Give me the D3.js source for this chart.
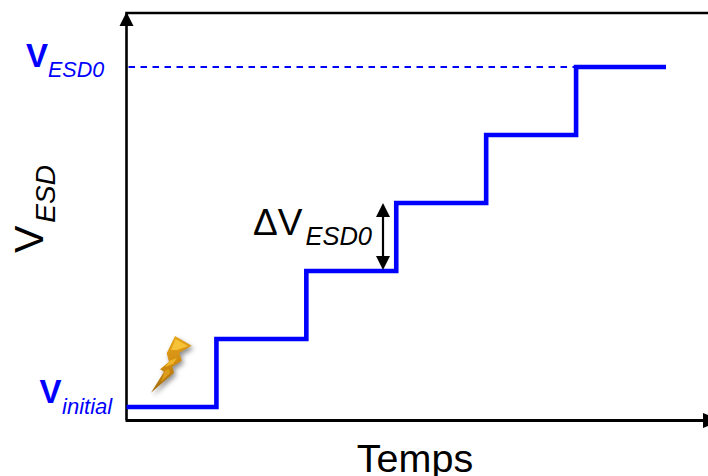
<!DOCTYPE html>
<html><head><meta charset="utf-8">
<script src="https://cdn.jsdelivr.net/npm/d3@7/dist/d3.min.js"></script>
<style>html,body{margin:0;padding:0;background:#fff}svg{display:block}text{font-family:"Liberation Sans",Arial,sans-serif}</style>
</head><body><svg id="c" width="708" height="476"></svg>
<script>
const stepTimes = [0,1,2,3,4,5,6];
const stepLevels = [0,1,2,3,4,5,5];
const xLabel = "Temps";
const yLabel = ["V","ESD"];
const topLabel = ["V","ESD0"];
const bottomLabel = ["V","initial"];
const deltaLabel = ["ΔV","ESD0"];
const BLUE = "#0000ff";

const svg = d3.select("#c");
const x = d3.scaleLinear().domain([0,6]).range([126.5,666]);
const y = d3.scaleLinear().domain([0,5]).range([407,67]);

const defs = svg.append("defs");
const g1 = defs.append("linearGradient").attr("id","bolt").attr("x1","0.3").attr("y1","0").attr("x2","0.5").attr("y2","1");
[[0,"#e8aa1c"],[0.5,"#d28c10"],[1,"#9a660c"]].forEach(d=>g1.append("stop").attr("offset",d[0]).attr("stop-color",d[1]));
defs.append("filter").attr("id","blur").attr("x","-50%").attr("y","-50%").attr("width","200%").attr("height","200%")
  .append("feGaussianBlur").attr("stdDeviation",2.4);
defs.append("filter").attr("id","soft").append("feGaussianBlur").attr("stdDeviation",0.5);

// frame
svg.append("path").attr("d","M126.5,420V13H708").attr("fill","none").attr("stroke","#000").attr("stroke-width",2.6);
svg.append("path").attr("d","M125.5,420.5H708").attr("fill","none").attr("stroke","#000").attr("stroke-width",3.2);
svg.append("path").attr("d","M126.5,12L119.5,26H133.5Z").attr("fill","#000");
svg.append("path").attr("d","M703,413L708,415V426L703,428Z").attr("fill","#000");

// dashed reference
svg.append("line").attr("x1",x(0)+2).attr("x2",x(5)).attr("y1",y(5)).attr("y2",y(5))
  .attr("stroke",BLUE).attr("stroke-width",2).attr("stroke-dasharray","6.5,5.5");

// staircase
const line = d3.line().x((d,i)=>x(stepTimes[i])).y(d=>y(d)).curve(d3.curveStepAfter);
svg.append("path").attr("d",line(stepLevels)).attr("fill","none").attr("stroke",BLUE).attr("stroke-width",4.6).attr("stroke-linejoin","miter");

// delta arrow
const ax = 383;
svg.append("line").attr("x1",ax).attr("x2",ax).attr("y1",y(3)+8).attr("y2",y(2)-8).attr("stroke","#000").attr("stroke-width",2.2);
svg.append("path").attr("d",`M${ax},${y(3)}l-7,14h14Z`).attr("fill","#000");
svg.append("path").attr("d",`M${ax},${y(2)-1}l-7,-14h14Z`).attr("fill","#000");

// bolt
const B = "M175,336L191.7,345.7L179.3,352.7L181.7,360.7L172.3,366.7L174,372.7L151,392.7L164,371.7L160,369.3L169,361.7L166.7,353.3Z";
svg.append("path").attr("d",B).attr("fill","#444").attr("opacity",0.6).attr("filter","url(#blur)").attr("transform","translate(2,3)");
svg.append("path").attr("d",B).attr("fill","url(#bolt)").attr("filter","url(#soft)");
svg.append("path").attr("d","M175.5,339L188,346L177,350L171,350Z").attr("fill","#f6c238").attr("filter","url(#soft)");
svg.append("path").attr("d","M177,358L170,360.5L165,367L173,364Z").attr("fill","#efb52a").attr("filter","url(#soft)");
svg.append("path").attr("d","M169,369L165,370.5L161,382L170,373Z").attr("fill","#dc9c1a").attr("filter","url(#soft)");

function label(xp,yp,parts,fill,s1,s2,bold,dy,dx){
  const t = svg.append("text").attr("x",xp).attr("y",yp).attr("fill",fill);
  t.append("tspan").attr("font-size",s1).attr("font-weight",bold?"bold":"normal").text(parts[0]);
  t.append("tspan").attr("font-size",s2).attr("font-style","italic").attr("dy",dy).attr("dx",dx||0).text(parts[1]);
  return t;
}
label(26,67,topLabel,BLUE,33,21.5,true,10,0);
label(39.5,403,bottomLabel,BLUE,33,22,true,11,0.5);
label(253,235,deltaLabel,"#000",37,25.5,false,10,3);
label(0,0,yLabel,"#000",41,28,false,12,3).attr("transform","translate(43,253) rotate(-90)");
svg.append("text").attr("x",415).attr("y",472).attr("text-anchor","middle").attr("font-size",39.5).attr("fill","#000").text(xLabel);
</script></body></html>
